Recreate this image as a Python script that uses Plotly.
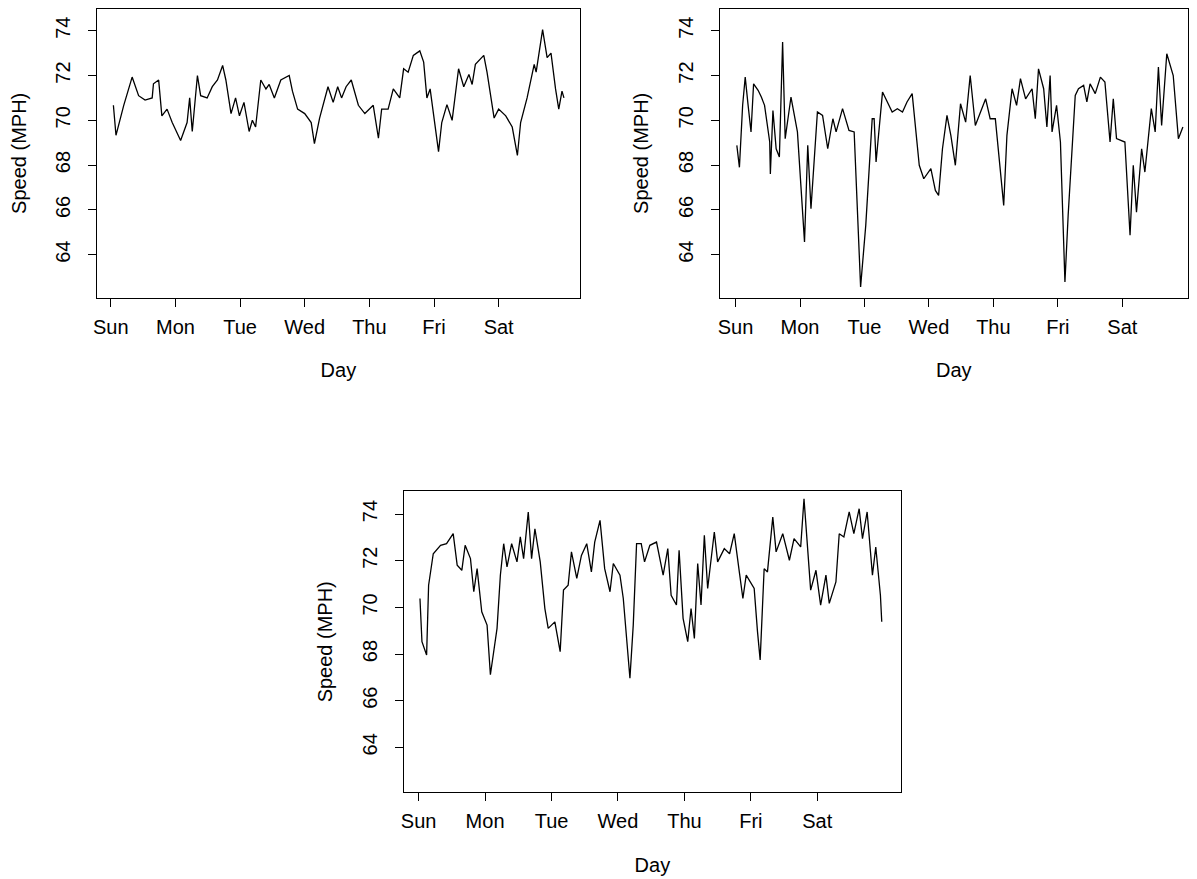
import plotly.graph_objects as go

day_names = ["Sun", "Mon", "Tue", "Wed", "Thu", "Fri", "Sat"]
day_ticks = [0, 1, 2, 3, 4, 5, 6]
y_ticks = [64, 66, 68, 70, 72, 74]

t1 = [0.04,0.08,0.20,0.33,0.43,0.53,0.64,0.66,0.74,0.79,0.87,0.95,1.08,1.18,1.22,1.26,1.34,1.39,1.49,1.57,1.65,1.73,1.78,1.86,1.93,1.99,2.06,2.14,2.19,2.24,2.32,2.40,2.45,2.53,2.63,2.76,2.81,2.89,3.00,3.10,3.15,3.23,3.36,3.44,3.51,3.57,3.64,3.72,3.83,3.93,4.06,4.14,4.19,4.29,4.37,4.47,4.53,4.60,4.68,4.78,4.84,4.89,4.94,5.07,5.12,5.20,5.28,5.38,5.46,5.54,5.59,5.64,5.77,5.82,5.93,6.00,6.11,6.21,6.29,6.34,6.44,6.55,6.58,6.68,6.75,6.81,6.88,6.93,6.98,7.01]
v1 = [70.67,69.33,70.67,71.93,71.1,70.9,71.0,71.63,71.8,70.2,70.5,69.9,69.1,69.9,71.0,69.5,72.0,71.1,71.0,71.5,71.8,72.45,71.8,70.3,71.0,70.2,70.8,69.5,70.0,69.7,71.8,71.4,71.6,71.0,71.8,72.0,71.3,70.5,70.3,69.9,68.96,70.1,71.5,70.8,71.5,71.0,71.5,71.8,70.67,70.3,70.67,69.2,70.5,70.5,71.4,71.0,72.3,72.15,72.9,73.1,72.6,71.0,71.4,68.6,69.9,70.7,70.0,72.3,71.5,72.05,71.6,72.5,72.9,72.15,70.1,70.5,70.2,69.7,68.43,69.9,71.0,72.5,72.15,74.05,72.8,73.0,71.4,70.5,71.3,71.0]

t2 = [0.02,0.06,0.11,0.15,0.19,0.24,0.28,0.35,0.40,0.45,0.53,0.54,0.58,0.63,0.68,0.71,0.73,0.77,0.86,0.96,1.07,1.12,1.17,1.27,1.35,1.43,1.51,1.56,1.66,1.76,1.84,1.94,2.02,2.12,2.15,2.18,2.28,2.43,2.51,2.59,2.66,2.74,2.79,2.85,2.92,3.03,3.10,3.15,3.21,3.28,3.34,3.41,3.49,3.57,3.64,3.72,3.88,3.95,4.03,4.08,4.16,4.21,4.29,4.36,4.42,4.50,4.60,4.65,4.70,4.78,4.83,4.88,4.91,4.98,5.04,5.11,5.16,5.27,5.32,5.40,5.45,5.50,5.58,5.66,5.73,5.81,5.86,5.91,6.04,6.12,6.17,6.22,6.30,6.35,6.45,6.51,6.56,6.61,6.69,6.79,6.87,6.94]
v2 = [68.88,67.9,70.67,71.93,70.8,69.48,71.63,71.34,71.04,70.67,69.03,67.6,70.44,68.73,68.36,70.96,73.49,69.18,71.04,69.48,64.57,68.88,66.05,70.37,70.22,68.73,70.07,69.48,70.52,69.55,69.48,62.56,65.31,70.07,70.07,68.14,71.26,70.37,70.52,70.37,70.82,71.19,69.77,67.99,67.39,67.84,66.87,66.65,68.73,70.22,69.33,67.99,70.74,69.92,72.0,69.77,70.96,70.07,70.07,68.58,66.2,69.33,71.41,70.67,71.86,70.96,71.41,70.07,72.3,71.41,69.70,72.0,69.48,70.67,69.03,62.78,65.76,71.11,71.41,71.56,70.82,71.63,71.19,71.93,71.71,69.03,70.96,69.18,69.03,64.87,67.99,65.9,68.73,67.69,70.52,69.48,72.38,69.77,72.97,72.0,69.18,69.70]

t3 = [0.02,0.05,0.12,0.15,0.22,0.33,0.42,0.52,0.58,0.65,0.70,0.78,0.83,0.88,0.95,1.03,1.08,1.18,1.23,1.28,1.33,1.40,1.48,1.53,1.58,1.65,1.70,1.75,1.83,1.90,1.95,2.05,2.13,2.18,2.25,2.30,2.38,2.45,2.53,2.60,2.65,2.73,2.80,2.88,2.93,3.03,3.08,3.18,3.23,3.28,3.35,3.40,3.48,3.58,3.68,3.75,3.80,3.88,3.92,3.98,4.05,4.10,4.15,4.20,4.25,4.30,4.35,4.45,4.50,4.60,4.68,4.75,4.83,4.88,4.93,5.05,5.10,5.14,5.20,5.25,5.33,5.38,5.48,5.58,5.65,5.75,5.80,5.85,5.90,5.98,6.05,6.13,6.18,6.28,6.33,6.40,6.48,6.55,6.63,6.68,6.75,6.83,6.88,6.95,6.97]
v3 = [70.38,68.53,67.96,70.95,72.30,72.66,72.73,73.16,71.81,71.59,72.66,72.09,70.67,71.66,69.81,69.24,67.11,69.10,71.38,72.73,71.74,72.73,71.95,73.02,72.09,74.09,72.09,73.37,71.95,69.95,69.10,69.38,68.10,70.74,70.95,72.38,71.24,72.23,72.73,71.52,72.80,73.73,71.66,70.67,71.88,71.38,70.38,66.96,69.24,72.73,72.73,71.95,72.66,72.80,71.38,72.52,70.52,70.10,72.45,69.53,68.53,69.95,68.67,71.88,70.10,73.09,70.81,73.23,71.95,72.52,72.30,73.16,71.45,70.38,71.38,70.81,68.96,67.75,71.66,71.52,73.87,72.38,73.16,72.02,72.95,72.59,74.66,72.45,70.74,71.59,70.10,71.38,70.17,71.09,73.16,73.02,74.09,73.16,74.23,72.95,74.09,71.38,72.59,70.52,69.38]

W, H = 1197, 879
OFF = 8  # page body margin
panels = [
    (t1, v1, (93, 578), (8, 297), (-0.218, 7.26)),
    (t2, v2, (718, 1188), (8, 297), (-0.247, 7.02)),
    (t3, v3, (401, 900), (491, 792), (-0.225, 7.26)),
]

fig = go.Figure()
font = dict(family="Liberation Sans, Arial", size=20, color="black")
layout = dict(width=W, height=H, margin=dict(l=0, r=0, t=0, b=0),
              paper_bgcolor="white", plot_bgcolor="white", showlegend=False)
for i, (t, v, (x0, x1), (y0, y1), xr) in enumerate(panels, start=1):
    sfx = "" if i == 1 else str(i)
    x0, x1, y0, y1 = x0 - OFF, x1 - OFF, y0 - OFF, y1 - OFF
    fig.add_trace(go.Scatter(x=t, y=v, mode="lines", line=dict(color="black", width=1.3),
                             xaxis="x" + sfx, yaxis="y" + sfx))
    layout["xaxis" + sfx] = dict(domain=[x0 / W, x1 / W], range=list(xr), anchor="y" + sfx,
                                 tickvals=day_ticks, ticktext=day_names, ticks="outside",
                                 ticklen=8, tickcolor="black", showline=True, mirror=True,
                                 linecolor="black", linewidth=1, showgrid=False, zeroline=False,
                                 ticklabelstandoff=3,
                                 tickfont=font, title=dict(text="Day", font=font, standoff=26))
    layout["yaxis" + sfx] = dict(domain=[1 - y1 / H, 1 - y0 / H], range=[62.08, 74.97],
                                 anchor="x" + sfx, tickvals=y_ticks, ticks="outside",
                                 ticklen=8, tickcolor="black", showline=True, mirror=True,
                                 linecolor="black", linewidth=1, showgrid=False, zeroline=False,
                                 tickangle=-90, tickfont=font, ticklabelstandoff=10,
                                 title=dict(text="Speed (MPH)", font=font, standoff=20))
fig.update_layout(**layout)
fig.write_html("out.html")
